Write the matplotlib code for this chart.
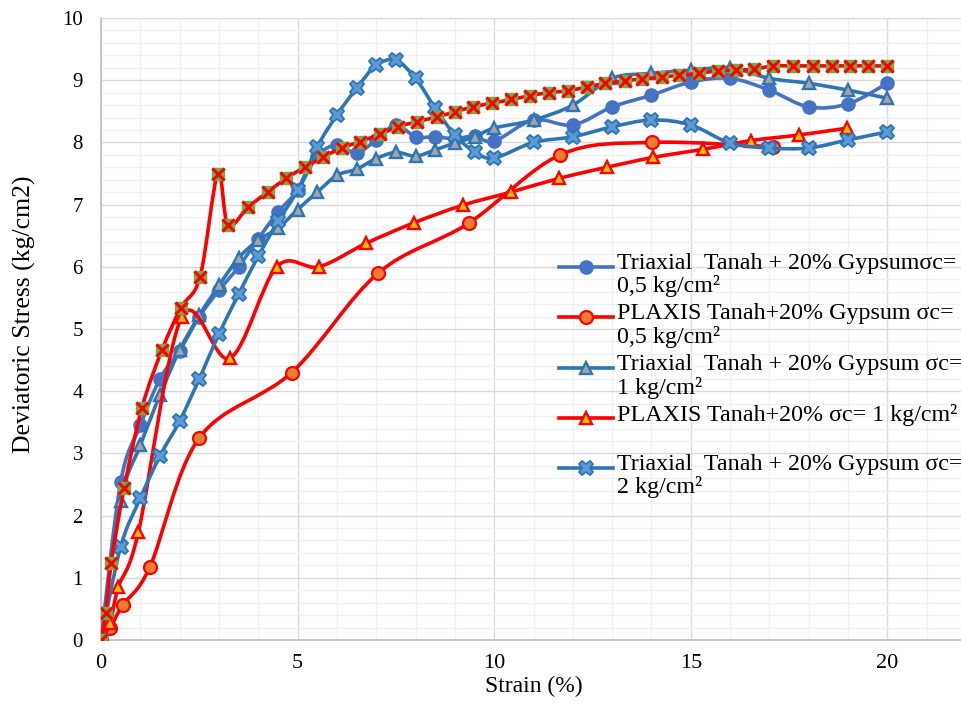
import numpy as np
import matplotlib
matplotlib.use("Agg")
import matplotlib.pyplot as plt
from matplotlib.path import Path
from matplotlib.patches import PathPatch
from matplotlib.lines import Line2D

# --- data ---
tri05_x = [0, 0.5, 1, 1.5, 2, 2.5, 3, 3.5, 4, 4.5, 5, 5.5, 6, 6.5, 7, 7.5, 8, 8.5, 9, 9.5, 10,
           11, 12, 13, 14, 15, 16, 17, 18, 19, 20]
tri05_y = [0, 2.54, 3.45, 4.2, 4.65, 5.2, 5.62, 6.0, 6.45, 6.88, 7.23, 7.78, 7.96, 7.83, 8.04, 8.28,
           8.09, 8.09, 8.06, 8.1, 8.02, 8.36, 8.28, 8.57, 8.76, 8.97, 9.03, 8.84, 8.57, 8.62, 8.95]

tri1_x = tri05_x
tri1_y = [0, 2.24, 3.13, 3.94, 4.66, 5.22, 5.7, 6.14, 6.43, 6.62, 6.92, 7.2, 7.47, 7.57, 7.74, 7.84,
          7.78, 7.88, 7.99, 8.09, 8.23, 8.36, 8.6, 9.03, 9.11, 9.16, 9.2, 9.03, 8.95, 8.84, 8.71]

tri2_x = tri05_x
tri2_y = [0, 1.5, 2.28, 2.96, 3.52, 4.2, 4.92, 5.56, 6.17, 6.73, 7.23, 7.93, 8.44, 8.87, 9.24, 9.32,
          9.03, 8.55, 8.12, 7.85, 7.75, 8.0, 8.09, 8.25, 8.36, 8.28, 7.99, 7.91, 7.91, 8.04, 8.17]

plx05_x = [0, 0.23, 0.55, 1.24, 2.5, 4.85, 7.05, 9.35, 11.68, 14.02, 17.1]
plx05_y = [0, 0.19, 0.56, 1.17, 3.25, 4.3, 5.9, 6.7, 7.8, 8.0, 7.93]

plx1_x = [0, 0.23, 0.44, 0.95, 2.06, 3.28, 4.47, 5.54, 6.75, 7.97, 9.2, 10.42, 11.64, 12.86,
          14.05, 15.32, 16.54, 17.76, 18.98]
plx1_y = [0, 0.27, 0.85, 1.73, 5.2, 4.53, 6.0, 6.0, 6.38, 6.71, 6.99, 7.2, 7.42, 7.6,
          7.76, 7.89, 8.03, 8.12, 8.23]

plx2_x = [0, 0.12, 0.26, 0.59, 1.04, 1.55, 2.03, 2.52, 2.97, 3.23, 3.74, 4.24, 4.7, 5.18, 5.64,
          6.12, 6.58, 7.09, 7.55, 8.03, 8.54, 9.0, 9.45, 9.94, 10.44, 10.9, 11.39, 11.87, 12.35,
          12.83, 13.32, 13.77, 14.26, 14.71, 15.2, 15.68, 16.16, 16.62, 17.1, 17.59, 18.1, 18.58,
          19.06, 19.52, 20.0]
plx2_y = [0, 0.44, 1.24, 2.45, 3.73, 4.66, 5.34, 5.84, 7.5, 6.67, 6.96, 7.2, 7.42, 7.6, 7.76,
          7.91, 8.01, 8.13, 8.25, 8.33, 8.41, 8.49, 8.57, 8.63, 8.69, 8.75, 8.8, 8.83, 8.89,
          8.95, 8.99, 9.02, 9.05, 9.08, 9.11, 9.15, 9.16, 9.18, 9.23, 9.23, 9.23, 9.23,
          9.23, 9.23, 9.23]

labels = [
    "Triaxial  Tanah + 20% Gypsumσc=\n0,5 kg/cm²",
    "PLAXIS Tanah+20% Gypsum σc=\n0,5 kg/cm²",
    "Triaxial  Tanah + 20% Gypsum σc=\n1 kg/cm²",
    "PLAXIS Tanah+20% σc= 1 kg/cm²",
    "Triaxial  Tanah + 20% Gypsum σc=\n2 kg/cm²",
]

RED = "#FF0000"
BLUE1 = "#4472C4"
BLUE2 = "#2E75B6"
SERIF = "Liberation Serif"


def smooth_line(ax, x, y, color, lw=2.6, zorder=2):
    # Excel-like smoothed line drawn as cubic Bezier segments through the data points
    pts = np.column_stack([x, y]).astype(float)
    n = len(pts)
    verts = [pts[0]]
    codes = [Path.MOVETO]
    for i in range(n - 1):
        p0 = pts[i - 1] if i > 0 else pts[i]
        p1 = pts[i]
        p2 = pts[i + 1]
        p3 = pts[i + 2] if i + 2 < n else pts[i + 1]
        verts += [p1 + (p2 - p0) / 6, p2 - (p3 - p1) / 6, p2]
        codes += [Path.CURVE4] * 3
    patch = PathPatch(Path(verts, codes), fill=False, edgecolor=color, lw=lw,
                      joinstyle="round", capstyle="round", zorder=zorder)
    ax.add_patch(patch)


fig = plt.figure(figsize=(9.61, 7.09), dpi=100)
ax = fig.add_axes([101 / 961, 69 / 709, 865 / 961, 622 / 709])

series = [
    (tri05_x, tri05_y, BLUE1, dict(marker="o", ms=9.3, mfc=BLUE1, mec=BLUE1, mew=1.2)),
    (plx05_x, plx05_y, RED, dict(marker="o", ms=9.3, mfc="#ED7D31", mec=RED, mew=1.6)),
    (tri1_x, tri1_y, BLUE2, dict(marker="^", ms=9.3, mfc="#A5A5A5", mec=BLUE2, mew=1.7)),
    (plx1_x, plx1_y, RED, dict(marker="^", ms=9.3, mfc="#FFC000", mec=RED, mew=1.7)),
    (tri2_x, tri2_y, BLUE2, dict(marker="X", ms=10.5, mfc="#5B9BD5", mec=BLUE2, mew=1.3)),
]

z = 2
for x, y, col, mk in series:
    smooth_line(ax, x, y, col, zorder=z)
    ax.plot(x, y, linestyle="none", zorder=z + 0.5, **mk)
    z += 1

# last series (no legend entry): green square with red cross
smooth_line(ax, plx2_x, plx2_y, RED, zorder=z)
ax.plot(plx2_x, plx2_y, linestyle="none", marker="s", ms=8.8, mfc="#70AD47", mec="#70AD47",
        zorder=z + 0.4)
ax.plot(plx2_x, plx2_y, linestyle="none", marker="x", ms=8.8, mec=RED, mew=2.2, zorder=z + 0.5)

ax.set_xlim(0, 22)
ax.set_ylim(0, 10)
ax.set_xticks([0, 5, 10, 15, 20])
ax.set_xticks(np.arange(0, 23, 1), minor=True)
ax.set_yticks(np.arange(0, 11, 1))
ax.set_yticks(np.arange(0, 10.01, 0.2), minor=True)
ax.grid(which="major", color="#D9D9D9", lw=1.0, zorder=0)
ax.grid(which="minor", color="#F0F0F0", lw=1.0, zorder=0)
ax.set_axisbelow(True)
for side in ["top", "right"]:
    ax.spines[side].set_visible(False)
for side in ["left", "bottom"]:
    ax.spines[side].set_color("#BFBFBF")
    ax.spines[side].set_linewidth(1.2)

ax.tick_params(which="both", length=0)
ax.tick_params(axis="x", pad=10, labelsize=16)
ax.tick_params(axis="y", pad=13, labelsize=15)
for t in ax.get_xticklabels() + ax.get_yticklabels():
    t.set_fontfamily(SERIF)

ax.set_xlabel("Strain (%)", fontsize=17, family=SERIF)
ax.xaxis.set_label_coords(0.5, -0.058)
ax.set_ylabel("Deviatoric Stress (kg/cm2)", fontsize=18.5, family=SERIF)
ax.yaxis.set_label_coords(-0.075, 0.524)

# legend drawn by hand: handle aligned with the first line of each label
handle_y = [0.5997, 0.519, 0.437, 0.357, 0.2765]
for (x, y, col, mk), lab, hy in zip(series, labels, handle_y):
    ax.add_line(Line2D([0.5295, 0.592], [hy, hy], color=col, lw=2.6,
                       transform=ax.transAxes, clip_on=False, zorder=10))
    ax.add_line(Line2D([0.561], [hy], transform=ax.transAxes, clip_on=False,
                       zorder=11, linestyle="none", **mk))
    ax.text(0.5965, hy + 0.0225, lab, transform=ax.transAxes, ha="left", va="top",
            fontsize=17.3, family=SERIF, linespacing=1.08, zorder=12)

fig.savefig("out.png", dpi=100)
